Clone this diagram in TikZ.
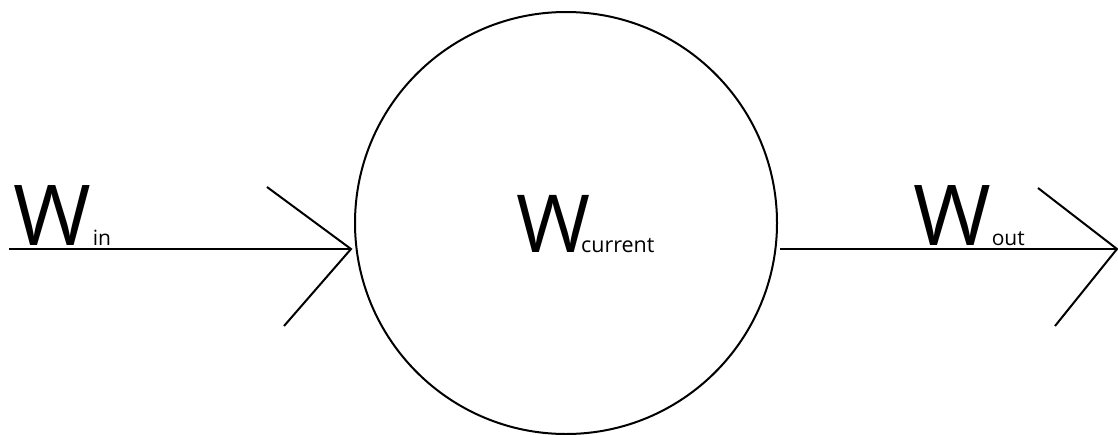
\documentclass[tikz,border=0pt]{standalone}
\usepackage{fontspec}
\setmainfont{Open Sans}
\begin{document}
\begin{tikzpicture}[x=1pt,y=-1pt,line width=2pt,
  big/.style={anchor=base west,inner sep=0pt,font=\fontsize{84}{84}\selectfont},
  bigc/.style={anchor=base west,inner sep=0pt,font=\fontsize{80}{80}\selectfont},
  wire/.style={draw=black,line width=2pt},
  ball/.style={draw=black,circle,line width=2pt,minimum size=422pt,inner sep=0pt}]
\useasboundingbox (0,0) rectangle (1118,434);
\node[ball] (c) at (566,223) {};
\node[big] (win) at (12,245) {W\kern2pt{\fontsize{21}{21}\selectfont in}};
\node[bigc] (wcur) at (515,252) {W\kern-9pt{\fontsize{21.5}{21.5}\selectfont current}};
\node[big] (wout) at (912,245) {W\kern1pt{\fontsize{21}{21}\selectfont out}};
% left arrow
\coordinate (inStart) at (9,249);
\coordinate (inTip) at (351,249);
\coordinate (inUp) at (267,187);
\coordinate (inLow) at (284,326);
\draw[wire] (inStart) -- (inTip);
\draw[wire] (inUp) -- (inTip) -- (inLow);
% right arrow
\coordinate (outStart) at (780,249);
\coordinate (outTip) at (1117,249);
\coordinate (outUp) at (1038,188);
\coordinate (outLow) at (1055,326);
\draw[wire] (outStart) -- (outTip);
\draw[wire] (outUp) -- (outTip) -- (outLow);
\end{tikzpicture}
\end{document}
